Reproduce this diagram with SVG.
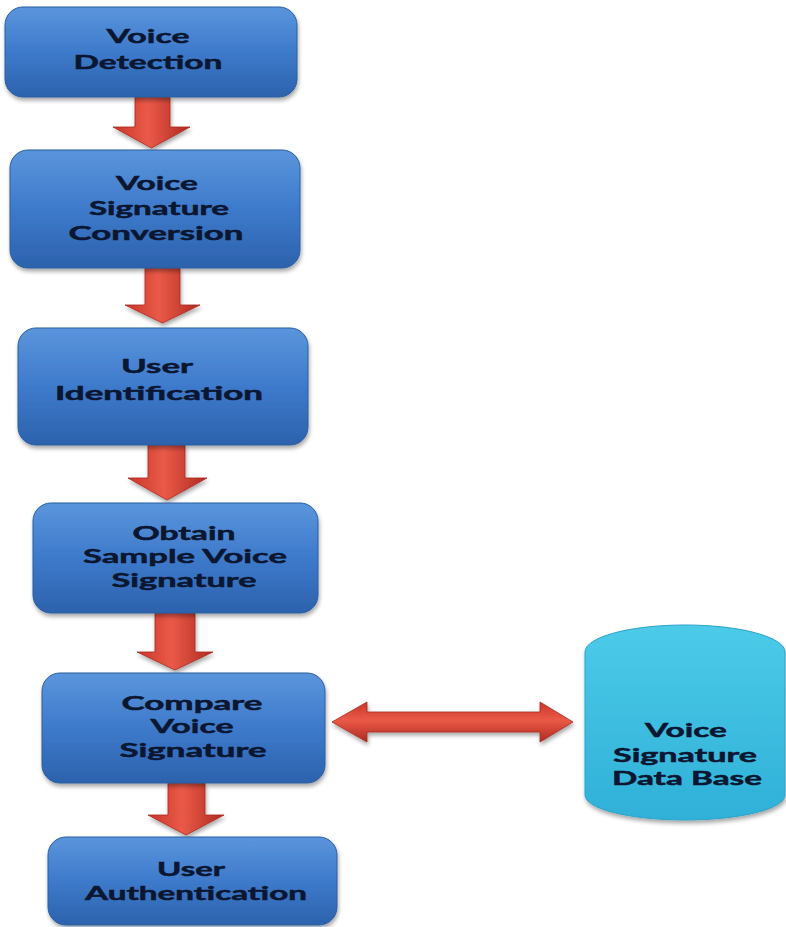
<svg xmlns="http://www.w3.org/2000/svg" width="786" height="927" viewBox="0 0 786 927">
<defs>
<linearGradient id="gBox" x1="0" y1="0" x2="0" y2="1">
<stop offset="0" stop-color="#5a95dc"/>
<stop offset="0.5" stop-color="#3e7acb"/>
<stop offset="1" stop-color="#2c62ad"/>
</linearGradient>
<linearGradient id="gCyl" x1="0" y1="0" x2="0" y2="1">
<stop offset="0" stop-color="#4ccbe8"/>
<stop offset="1" stop-color="#2fb0d8"/>
</linearGradient>
<linearGradient id="gArrV" x1="0" y1="0" x2="1" y2="0">
<stop offset="0" stop-color="#c8352a"/>
<stop offset="0.45" stop-color="#ea5a48"/>
<stop offset="1" stop-color="#b02a20"/>
</linearGradient>
<linearGradient id="gArrH" x1="0" y1="0" x2="0" y2="1">
<stop offset="0" stop-color="#c8352a"/>
<stop offset="0.45" stop-color="#ea5a48"/>
<stop offset="1" stop-color="#b02a20"/>
</linearGradient>
<filter id="sh" x="-10%" y="-10%" width="125%" height="130%">
<feGaussianBlur in="SourceAlpha" stdDeviation="2"/>
<feOffset dx="1" dy="3" result="b"/>
<feComponentTransfer><feFuncA type="linear" slope="0.35"/></feComponentTransfer>
<feMerge><feMergeNode/><feMergeNode in="SourceGraphic"/></feMerge>
</filter>
</defs>
<style>
.box{fill:url(#gBox);stroke:#2a5e9e;stroke-width:1;filter:url(#sh)}
.cyl{fill:url(#gCyl);stroke:#2aa3c8;stroke-width:1;filter:url(#sh)}
.av{fill:url(#gArrV);stroke:#a82a20;stroke-width:0.8;filter:url(#sh)}
.ah{fill:url(#gArrH);stroke:#a82a20;stroke-width:0.8;filter:url(#sh)}
text{font-family:Lato,"Open Sans","DejaVu Sans",sans-serif;font-weight:bold;font-size:19.5px;fill:#0b1630;stroke:#0b1630;stroke-width:0.5;text-anchor:middle}
</style>
<rect width="786" height="927" fill="#ffffff"/>
<g id="connectors">
<polygon class="av" points="135,97 170,97 170,127 190,127 151.5,148 113,127 135,127"/>
<polygon class="av" points="145,268 180,268 180,305 200,305 162.5,323 125,305 145,305"/>
<polygon class="av" points="148,445 185,445 185,478 207,478 167,500 128,478 148,478"/>
<polygon class="av" points="155,613 195,613 195,652 213,652 175,670 137,652 155,652"/>
<polygon class="av" points="168,783 205,783 205,815 224,815 186,835 148,815 168,815"/>
<polygon class="ah" points="332,722 367,702 367,712 540,712 540,702 573,722 540,742 540,732 367,732 367,742"/>
</g>
<g id="n1">
<rect class="box" x="5" y="7" width="292" height="90" rx="18"/>
<text x="148" y="43" textLength="83" lengthAdjust="spacingAndGlyphs">Voice</text>
<text x="148" y="69" textLength="149" lengthAdjust="spacingAndGlyphs">Detection</text>
</g>
<g id="n2">
<rect class="box" x="10" y="150" width="290" height="118" rx="18"/>
<text x="157" y="190" textLength="82" lengthAdjust="spacingAndGlyphs">Voice</text>
<text x="159" y="215" textLength="140" lengthAdjust="spacingAndGlyphs">Signature</text>
<text x="156" y="240" textLength="175" lengthAdjust="spacingAndGlyphs">Conversion</text>
</g>
<g id="n3">
<rect class="box" x="18" y="328" width="290" height="117" rx="18"/>
<text x="157" y="373" textLength="72" lengthAdjust="spacingAndGlyphs">User</text>
<text x="159" y="400" textLength="208" lengthAdjust="spacingAndGlyphs">Identification</text>
</g>
<g id="n4">
<rect class="box" x="33" y="503" width="285" height="110" rx="18"/>
<text x="184" y="540" textLength="103" lengthAdjust="spacingAndGlyphs">Obtain</text>
<text x="185" y="563" textLength="204" lengthAdjust="spacingAndGlyphs">Sample Voice</text>
<text x="184" y="587" textLength="145" lengthAdjust="spacingAndGlyphs">Signature</text>
</g>
<g id="n5">
<rect class="box" x="42" y="673" width="283" height="110" rx="18"/>
<text x="192" y="710" textLength="141" lengthAdjust="spacingAndGlyphs">Compare</text>
<text x="192" y="733" textLength="83" lengthAdjust="spacingAndGlyphs">Voice</text>
<text x="193" y="757" textLength="147" lengthAdjust="spacingAndGlyphs">Signature</text>
</g>
<g id="n6">
<rect class="box" x="48" y="837" width="289" height="88" rx="18"/>
<text x="191" y="876" textLength="68" lengthAdjust="spacingAndGlyphs">User</text>
<text x="196" y="900" textLength="222" lengthAdjust="spacingAndGlyphs">Authentication</text>
</g>
<g id="db">
<path class="cyl" d="M585,652 A100,27 0 0 1 785,652 L785,795 A100,25 0 0 1 585,795 Z"/>
<text x="686" y="737" textLength="82" lengthAdjust="spacingAndGlyphs">Voice</text>
<text x="685" y="762" textLength="144" lengthAdjust="spacingAndGlyphs">Signature</text>
<text x="687" y="785" textLength="150" lengthAdjust="spacingAndGlyphs">Data Base</text>
</g>
</svg>
